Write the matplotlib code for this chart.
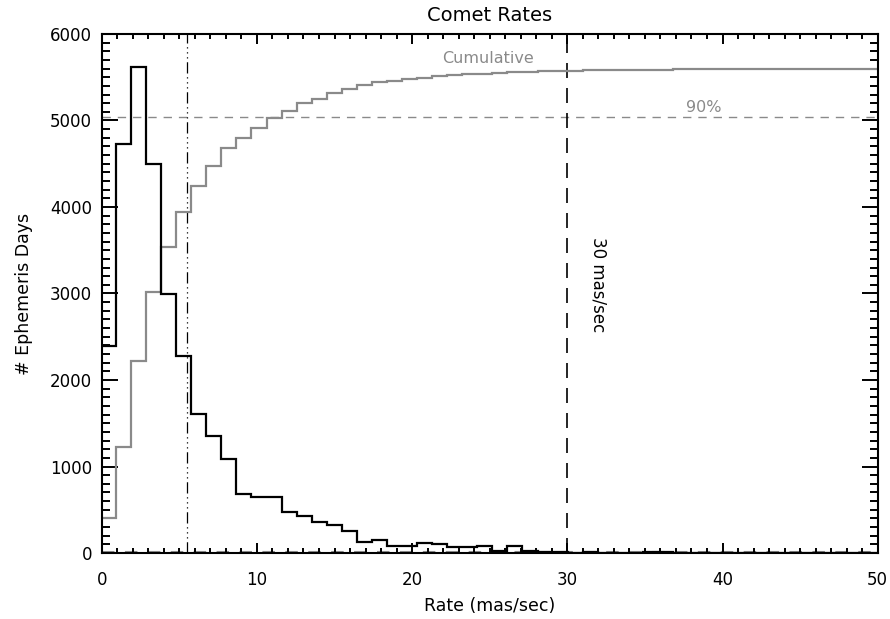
import numpy as np
import matplotlib
matplotlib.use('Agg')
import matplotlib.pyplot as plt
from matplotlib.ticker import MultipleLocator

# histogram bins (mas/sec)
first_edge = -0.05
bin_width = 0.97

counts = [2390, 4725, 5615, 4495, 2990, 2280, 1607, 1353, 1083, 678,
          644, 644, 478, 428, 355, 324, 250, 123, 145, 85,
          85, 115, 100, 73, 65, 85, 20, 85, 23, 10,
          10, 5, 8, 3, 5, 3, 8, 10, 5, 3,
          2, 2, 3, 1, 1, 2, 1, 0, 1, 0,
          1, 0]

cumulative = [401, 1229, 2223, 3021, 3534, 3939, 4247, 4474, 4678, 4794,
              4913, 5025, 5113, 5199, 5249, 5321, 5361, 5410, 5441, 5460,
              5478, 5495, 5510, 5522, 5533, 5543, 5550, 5560, 5565, 5570,
              5575, 5577, 5578, 5579, 5580, 5581, 5582, 5582, 5592, 5592,
              5592, 5592, 5592, 5592, 5592, 5592, 5592, 5592, 5592, 5592,
              5592, 5592]

level_90 = 5035
peak_rate = 5.5
cut_rate = 30

edges = first_edge + bin_width * np.arange(len(counts) + 1)

plt.rcParams['font.family'] = 'DejaVu Sans'
fig = plt.figure(figsize=(8.9, 6.19), dpi=100)
ax = fig.add_axes([0.1143, 0.1066, 0.8719, 0.8385])

grey = '#8a8a8a'
ax.axhline(10, color=grey, lw=1.5, ls=(0, (6, 5)), zorder=1)
ax.axhline(level_90, color=grey, lw=1, ls=(0, (6, 5)), zorder=1)
ax.stairs(cumulative, edges, color=grey, lw=1.6, zorder=2)
ax.stairs(counts, edges, color='black', lw=1.6, zorder=3)
ax.axvline(peak_rate, color='black', lw=0.9,
           ls=(0, (9, 3, 1, 3, 1, 3, 1, 3)), zorder=1)
ax.axvline(cut_rate, color='black', lw=1.2, ls=(0, (9, 6)), zorder=1)

ax.text(24.9, 5719, 'Cumulative', color=grey, fontsize=11.5,
        ha='center', va='center')
ax.text(38.8, 5153, '90%', color=grey, fontsize=11.5,
        ha='center', va='center')
ax.text(32.0, 3100, '30 mas/sec', color='black', fontsize=12,
        rotation=-90, ha='center', va='center')

ax.set_xlim(0, 50)
ax.set_ylim(0, 6000)
ax.xaxis.set_major_locator(MultipleLocator(10))
ax.xaxis.set_minor_locator(MultipleLocator(1))
ax.yaxis.set_major_locator(MultipleLocator(1000))
ax.yaxis.set_minor_locator(MultipleLocator(100))

ax.tick_params(which='both', direction='in', top=True, right=True,
               width=1.4, labelsize=12)
ax.tick_params(axis='x', which='major', length=7.2, pad=13)
ax.tick_params(axis='x', which='minor', length=3.6)
ax.tick_params(axis='y', which='major', length=11.2, pad=7)
ax.tick_params(axis='y', which='minor', length=5.6)
for s in ax.spines.values():
    s.set_linewidth(1.5)

ax.set_xlabel('Rate (mas/sec)', fontsize=12.5, labelpad=6)
ax.set_ylabel('# Ephemeris Days', fontsize=12.5, labelpad=12)
ax.set_title('Comet Rates', fontsize=14, pad=9)

fig.savefig('out.png', dpi=100)
